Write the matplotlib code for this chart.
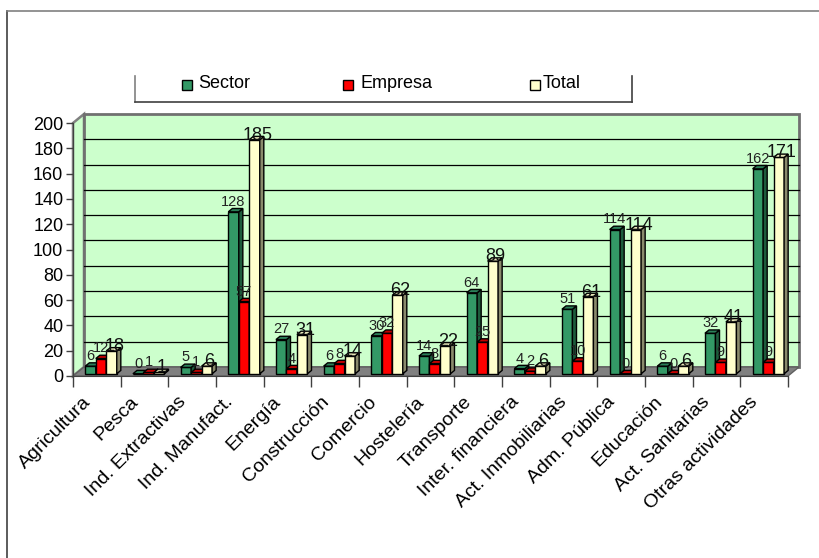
import matplotlib.pyplot as plt
from matplotlib.patches import Polygon, Rectangle
from matplotlib.lines import Line2D
from matplotlib.transforms import ScaledTranslation

plt.rcParams['font.family'] = ['Liberation Sans', 'DejaVu Sans']

# Datos por actividad
categorias = ["Agricultura", "Pesca", "Ind. Extractivas", "Ind. Manufact.", "Energía",
              "Construcción", "Comercio", "Hostelería", "Transporte", "Inter. financiera",
              "Act. Inmobiliarias", "Adm. Pública", "Educación", "Act. Sanitarias",
              "Otras actividades"]
sector = [6, 0, 5, 128, 27, 6, 30, 14, 64, 4, 51, 114, 6, 32, 162]
empresa = [12, 1, 1, 57, 4, 8, 32, 8, 25, 2, 10, 0, 0, 9, 9]
total = [18, 1, 6, 185, 31, 14, 62, 22, 89, 6, 61, 114, 6, 41, 171]
series = ["Sector", "Empresa", "Total"]

# colores: cara frontal, lateral, superior
caras = [("#339966", "#1d5c3c", "#2b8058"),
         ("#ff0000", "#8c0000", "#c00000"),
         ("#ffffcc", "#8a8a6c", "#e6e6b8")]

W, H = 819, 558
fig = plt.figure(figsize=(W / 100, H / 100), dpi=100)
fig.patch.set_facecolor("white")

# marco exterior
fig.add_artist(Line2D([7 / W, 7 / W], [0, 1 - 11 / H], transform=fig.transFigure, color="#404040", lw=1.2))
fig.add_artist(Line2D([7 / W, 1], [1 - 11 / H, 1 - 11 / H], transform=fig.transFigure, color="#808080", lw=1.2))

x0px, x1px, y0px, y1px = 73, 788, 376, 123
ax = fig.add_axes([x0px / W, 1 - y0px / H, (x1px - x0px) / W, (y0px - y1px) / H])
n = len(categorias)
ax.set_xlim(0, n)
ax.set_ylim(0, 200)
ax.patch.set_visible(False)

# profundidad del gráfico 3D en unidades de datos
DX = 11 / ((x1px - x0px) / n)
DY = 9 / ((y0px - y1px) / 200)

# paredes y suelo
ax.add_patch(Polygon([(0, 0), (DX, DY), (DX, 200 + DY), (0, 200)], closed=True,
                     facecolor="#ccffcc", edgecolor="#808080", lw=1.8, clip_on=False, zorder=0))
ax.add_patch(Polygon([(DX, DY), (n + DX, DY), (n + DX, 200 + DY), (DX, 200 + DY)], closed=True,
                     facecolor="#ccffcc", edgecolor="#707070", lw=2, clip_on=False, zorder=0))
for v in range(20, 200, 20):
    ax.plot([DX, n + DX], [v + DY, v + DY], color="black", lw=0.9, clip_on=False, zorder=1)
ax.add_patch(Polygon([(0, 0), (n, 0), (n + DX, DY), (DX, DY)], closed=True,
                     facecolor="#808080", edgecolor="#606060", lw=1, clip_on=False, zorder=1))

# barras con efecto 3D
w = 0.22
bx, by = 0.25 * DX, 0.25 * DY
dx, dy = 0.37 * DX, 0.37 * DY
for i in range(n):
    for j, vals in enumerate([sector, empresa, total]):
        v = vals[i]
        xl = i + 0.5 + 0.03 + (j - 1) * w - w / 2 + bx
        fr, la, su = caras[j]
        z = 3 + i * 0.01 + j * 0.001
        ax.add_patch(Rectangle((xl, by), w, v, facecolor=fr, edgecolor="black", lw=1, zorder=z, clip_on=False))
        ax.add_patch(Polygon([(xl + w, by), (xl + w + dx, by + dy), (xl + w + dx, by + v + dy), (xl + w, by + v)],
                             closed=True, facecolor=la, edgecolor="black", lw=1, zorder=z, clip_on=False))
        ax.add_patch(Polygon([(xl, by + v), (xl + w, by + v), (xl + w + dx, by + v + dy), (xl + dx, by + v + dy)],
                             closed=True, facecolor=su, edgecolor="black", lw=1, zorder=z, clip_on=False))
        if j < 2:
            ax.annotate(str(v), (xl + w / 2, by + v + dy), xytext=(0, 2), textcoords="offset points",
                        ha="center", va="baseline", fontsize=10.5, color="#222222", zorder=10)
        else:
            ax.annotate(str(v), (xl + w / 2, by + v), xytext=(2, 0), textcoords="offset points",
                        ha="center", va="baseline", fontsize=13, color="#111111", zorder=10)

# ejes
for s in ["top", "right"]:
    ax.spines[s].set_visible(False)
ax.spines["left"].set_color("#404040")
ax.spines["bottom"].set_color("#404040")
ax.spines["left"].set_zorder(2)
ax.spines["bottom"].set_zorder(2)
ax.set_yticks(range(0, 201, 20))
ax.tick_params(axis="y", length=5, width=1, color="#404040", labelsize=13, pad=2)
ax.set_xticks(range(n + 1))
ax.set_xticklabels([])
ax.tick_params(axis="x", which="major", length=8, width=1, color="#404040")
ax.set_xticks([i + 0.5 for i in range(n)], minor=True)
ax.set_xticklabels(categorias, minor=True, rotation=45, ha="right", va="center",
                   rotation_mode="anchor", fontsize=14)
ax.tick_params(axis="x", which="minor", length=0, pad=17)
desplaza = ScaledTranslation(-9 / 100, 0, fig.dpi_scale_trans)
for lab in ax.get_xticklabels(minor=True):
    lab.set_transform(lab.get_transform() + desplaza)

# leyenda
lc = "#404040"
ly0, ly1 = 1 - 76 / H, 1 - 102 / H
fig.add_artist(Line2D([135 / W, 135 / W], [ly0, ly1], transform=fig.transFigure, color="#808080", lw=1.2))
fig.add_artist(Line2D([135 / W, 632 / W], [ly1, ly1], transform=fig.transFigure, color=lc, lw=1.2))
fig.add_artist(Line2D([632 / W, 632 / W], [ly0, ly1], transform=fig.transFigure, color=lc, lw=1.2))
for (mx, tx), nombre, (fr, _, _) in zip([(187, 198), (348, 360), (535, 543)], series, caras):
    fig.add_artist(Rectangle(((mx - 5) / W, 1 - 90 / H), 10 / W, 10 / H, transform=fig.transFigure,
                             facecolor=fr, edgecolor="black", lw=1))
    fig.text(tx / W, 1 - 84 / H, nombre, ha="left", va="center", fontsize=13, color="black")

fig.savefig("out.png", dpi=100)
